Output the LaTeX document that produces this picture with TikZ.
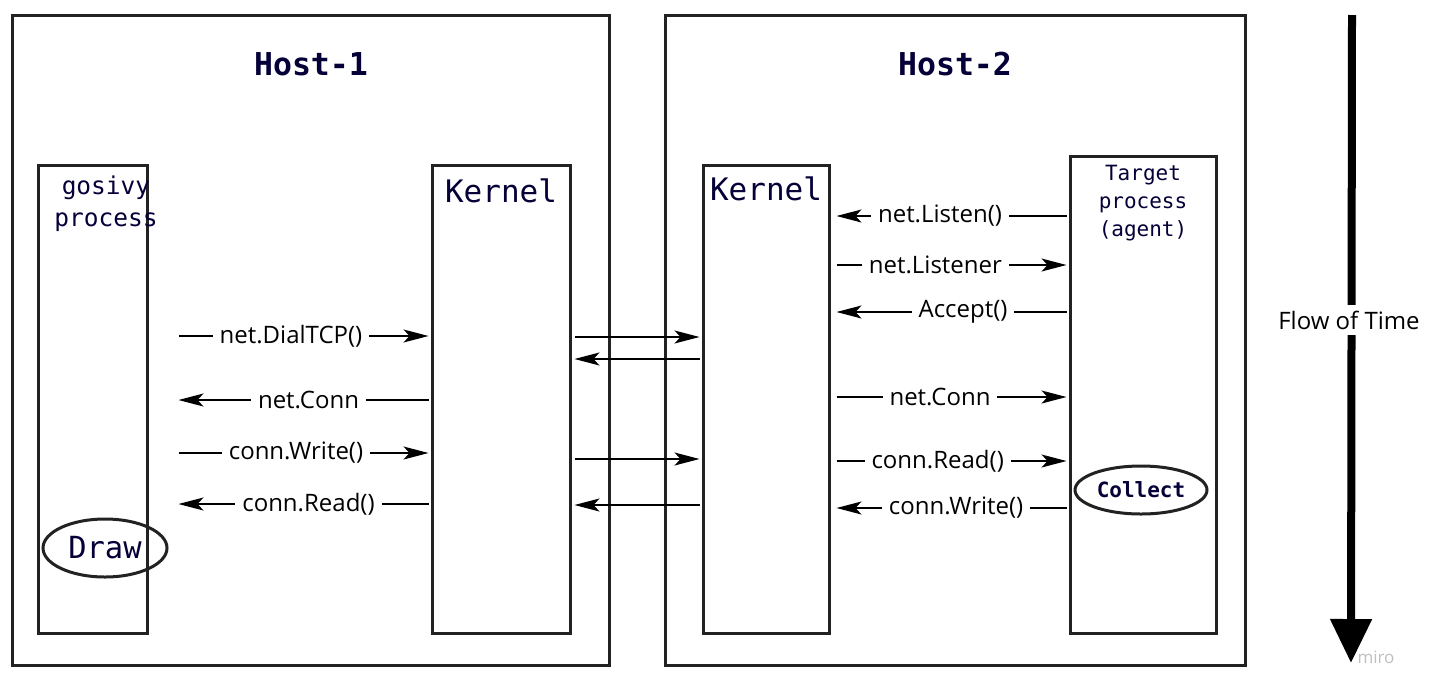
\documentclass[tikz,border=0pt]{standalone}
\usepackage{fontspec}
\setmainfont{Open Sans}
\setmonofont{DejaVu Sans Mono}
\usetikzlibrary{arrows.meta,shapes.geometric}
\definecolor{navy}{HTML}{050038}
\definecolor{boxline}{HTML}{222222}
\tikzset{
  hostbox/.style={draw=boxline, line width=3pt, rectangle, inner sep=0pt},
  procbox/.style={draw=boxline, line width=3pt, rectangle, inner sep=0pt, fill=white},
  monotxt/.style={font=\ttfamily, text=navy, inner sep=0pt, align=center},
  ell/.style={draw=boxline, line width=3pt, ellipse, inner sep=0pt},
  lbl/.style={fill=white, inner xsep=7pt, inner ysep=1pt, font=\fontsize{24}{26}\selectfont, text=black},
  rarr/.style={line width=1.5pt, -{Stealth[length=25pt,width=13pt,inset=6pt]}},
  larr/.style={line width=1.5pt, {Stealth[length=25pt,width=13pt,inset=6pt]}-},
  timearr/.style={line width=8pt, -{Triangle[length=44pt,width=40pt]}}
}
\begin{document}
\begin{tikzpicture}[x=1pt,y=-1pt]
\useasboundingbox (0,0) rectangle (1432,697);
% hosts
\node[hostbox, minimum width=597, minimum height=650] (h1) at (310.5,340) {};
\node[hostbox, minimum width=580, minimum height=650] (h2) at (955,340) {};
\node[monotxt, font=\ttfamily\bfseries\fontsize{31.5}{34}\selectfont] (h1t) at (311,64) {Host-1};
\node[monotxt, font=\ttfamily\bfseries\fontsize{31.5}{34}\selectfont] (h2t) at (955,64) {Host-2};
% process boxes
\node[procbox, minimum width=109, minimum height=468] (gos) at (92.5,399) {};
\node[procbox, minimum width=138, minimum height=468] (k1) at (501,399) {};
\node[procbox, minimum width=126, minimum height=468] (k2) at (766,399) {};
\node[procbox, minimum width=146, minimum height=477] (tgt) at (1143,394.5) {};
\node[monotxt, font=\ttfamily\fontsize{24.5}{32}\selectfont] (gost) at (106,204) {gosivy\\process};
\node[monotxt, font=\ttfamily\fontsize{31}{34}\selectfont] (k1t) at (501,191) {Kernel};
\node[monotxt, font=\ttfamily\fontsize{31}{34}\selectfont] (k2t) at (766,189) {Kernel};
\node[monotxt, font=\ttfamily\fontsize{21}{28}\selectfont] (tgtt) at (1143,203) {Target\\process\\(agent)};
% ellipses
\node[ell, minimum width=124, minimum height=58, font=\ttfamily\fontsize{30.5}{32}\selectfont, text=navy] (draw) at (105,548) {Draw};
\node[ell, minimum width=132, minimum height=48, font=\ttfamily\bfseries\fontsize{21}{22}\selectfont, text=navy] (coll) at (1141,490) {Collect};
% anchor helpers
\coordinate (g1) at ([xshift=30pt]gos.east);
\coordinate (k1w) at ([xshift=-2pt]k1.west);
\coordinate (k1e) at ([xshift=3pt]k1.east);
\coordinate (k2w) at ([xshift=-2pt]k2.west);
\coordinate (k2e) at ([xshift=6pt]k2.east);
\coordinate (tw) at ([xshift=-2pt]tgt.west);
% host-1 arrows
\draw[rarr] (g1 |- 0,336) -- (k1w |- 0,336) node[lbl, pos=0.45] (a1) {net.DialTCP()};
\draw[larr] (g1 |- 0,400) -- (k1w |- 0,400) node[lbl, pos=0.52] (a2) {net.Conn};
\draw[rarr] (g1 |- 0,453) -- (k1w |- 0,453) node[lbl, pos=0.47] (a3) {conn.Write()};
\draw[larr] (g1 |- 0,504) -- (k1w |- 0,504) node[lbl, pos=0.52] (a4) {conn.Read()};
% kernel-kernel arrows
\draw[rarr] (k1e |- 0,337) -- (k2w |- 0,337);
\draw[larr] (k1e |- 0,359) -- (k2w |- 0,359);
\draw[rarr] (k1e |- 0,459) -- (k2w |- 0,459);
\draw[larr] (k1e |- 0,505) -- (k2w |- 0,505);
% host-2 arrows
\draw[larr] (k2e |- 0,216) -- (tw |- 0,216) node[lbl, pos=0.45] (b1) {net.Listen()};
\draw[rarr] (k2e |- 0,265) -- (tw |- 0,265) node[lbl, pos=0.43] (b2) {net.Listener};
\draw[larr] (k2e |- 0,312) -- (tw |- 0,312) node[lbl, pos=0.55] (b3) {Accept()};
\draw[rarr] (k2e |- 0,397) -- (tw |- 0,397) node[lbl, pos=0.45] (b4) {net.Conn};
\draw[rarr] (k2e |- 0,461) -- (tw |- 0,461) node[lbl, pos=0.44] (b5) {conn.Read()};
\draw[larr] (k2e |- 0,508) -- (tw |- 0,508) node[lbl, pos=0.52] (b6) {conn.Write()};
% flow of time
\coordinate (t0) at (1352,15);
\coordinate (t1) at (1351,663);
\draw[timearr] (t0) -- (t1);
\node[fill=white, inner xsep=1pt, inner ysep=6pt, font=\fontsize{24}{26}\selectfont] (ft) at (1349,320) {Flow of Time};
\node[font=\fontsize{17}{18}\selectfont, text=black!25, inner sep=0pt] (miro) at (1376,657) {miro};
\end{tikzpicture}
\end{document}
